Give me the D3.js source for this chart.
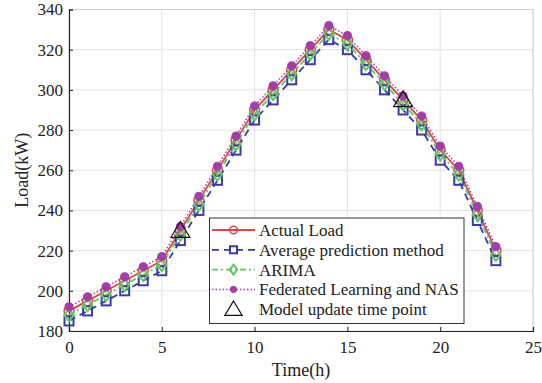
<!DOCTYPE html>
<html>
<head>
<meta charset="utf-8">
<script src="https://cdn.jsdelivr.net/npm/d3@7"></script>
<style>
  body { margin: 0; background: #fff; }
  svg { display: block; font-family: "Liberation Serif", "Times New Roman", serif; }
  svg text { font-family: "Liberation Serif", "Times New Roman", serif; }
</style>
</head>
<body>
<svg id="chart" width="542" height="383"></svg>
<script>
// hourly values
const hours = d3.range(0, 24);
const actualLoad = [190, 195, 200, 205, 210, 215, 230, 245, 260, 275, 290, 300, 310, 320, 330, 325, 315, 305, 295, 285, 270, 260, 240, 220];
const averagePred = [185, 190, 195, 200, 205, 210, 225, 240, 255, 270, 285, 295, 305, 315, 325, 320, 310, 300, 290, 280, 265, 255, 235, 215];
const arimaPred = [188, 193, 198, 203, 208, 213, 228, 243, 258, 273, 288, 298, 308, 318, 328, 323, 313, 303, 293, 283, 268, 258, 238, 218];
const flNasPred = [192, 197, 202, 207, 212, 217, 232, 247, 262, 277, 292, 302, 312, 322, 332, 327, 317, 307, 297, 287, 272, 262, 242, 222];
const updateHours = [6, 18];
const xTicks = [0, 5, 10, 15, 20, 25];
const yTicks = [180, 200, 220, 240, 260, 280, 300, 320, 340];
const legendLabels = ["Actual Load", "Average prediction method", "ARIMA", "Federated Learning and NAS", "Model update time point"];

const margin = { left: 69, right: 9, top: 9.5, bottom: 52 };
const W = 542, H = 383;
const serif = '"Liberation Serif", "Times New Roman", serif';

const svg = d3.select("#chart");

const x = d3.scaleLinear().domain([0, 25]).range([margin.left, W - margin.right]);
const y = d3.scaleLinear().domain([180, 340]).range([H - margin.bottom, margin.top]);

// grid
const grid = svg.append("g").attr("stroke", "#e3e3e3").attr("stroke-width", 1);
xTicks.forEach(t => grid.append("line")
  .attr("x1", x(t)).attr("x2", x(t)).attr("y1", y(180)).attr("y2", y(340)));
yTicks.forEach(t => grid.append("line")
  .attr("x1", x(0)).attr("x2", x(25)).attr("y1", y(t)).attr("y2", y(t)));

// light box on top/right
svg.append("path")
  .attr("d", `M${x(0)},${y(340)}H${x(25)}V${y(180)}`)
  .attr("fill", "none").attr("stroke", "#cfcfcf");

// axes
const xAxis = svg.append("g")
  .attr("transform", `translate(0,${y(180)})`)
  .call(d3.axisBottom(x).tickValues(xTicks).tickSize(-4).tickPadding(10));
const yAxis = svg.append("g")
  .attr("transform", `translate(${x(0)},0)`)
  .call(d3.axisLeft(y).tickValues(yTicks).tickSize(-4).tickPadding(6));
[xAxis, yAxis].forEach(a => {
  a.attr("font-family", serif).attr("font-size", 17);
  a.select(".domain").attr("stroke", "#222").attr("stroke-width", 1.2);
  a.selectAll(".tick line").attr("stroke", "#222");
  a.selectAll(".tick text").attr("fill", "#222");
});

svg.append("text")
  .attr("x", (x(0) + x(25)) / 2).attr("y", 376)
  .attr("text-anchor", "middle").attr("fill", "#222")
  .style("font-size", "18px").text("Time(h)");
svg.append("text")
  .attr("transform", `translate(28,${(y(180) + y(340)) / 2}) rotate(-90)`)
  .attr("text-anchor", "middle").attr("fill", "#222")
  .style("font-size", "18px").text("Load(kW)");

const series = [
  { name: legendLabels[0], values: actualLoad, color: "#d9474b", dash: null, marker: "circle" },
  { name: legendLabels[1], values: averagePred, color: "#3a3aa6", dash: "7,5", marker: "square" },
  { name: legendLabels[2], values: arimaPred, color: "#62c862", dash: "6,3,2,3", marker: "diamond" },
  { name: legendLabels[3], values: flNasPred, color: "#a23fa6", dash: "1.5,2", marker: "dot" }
];

function drawMarker(g, type, color, cx, cy, s) {
  if (type === "circle") {
    g.append("circle").attr("cx", cx).attr("cy", cy).attr("r", s * 0.55)
      .attr("fill", "none").attr("stroke", color).attr("stroke-width", 1.5);
  } else if (type === "square") {
    g.append("rect").attr("x", cx - s / 2).attr("y", cy - s / 2).attr("width", s).attr("height", s)
      .attr("fill", "none").attr("stroke", color).attr("stroke-width", 2);
  } else if (type === "diamond") {
    const r = s * 0.7;
    g.append("path").attr("d", `M${cx},${cy - r}L${cx + r * 0.75},${cy}L${cx},${cy + r}L${cx - r * 0.75},${cy}Z`)
      .attr("fill", "none").attr("stroke", color).attr("stroke-width", 2);
  } else if (type === "dot") {
    g.append("circle").attr("cx", cx).attr("cy", cy).attr("r", s * 0.45)
      .attr("fill", color).attr("stroke", color).attr("stroke-width", 1);
  } else if (type === "triangle") {
    const r = s * 0.75;
    g.append("path").attr("d", `M${cx},${cy - r}L${cx + r * 1.05},${cy + r * 0.75}L${cx - r * 1.05},${cy + r * 0.75}Z`)
      .attr("fill", "none").attr("stroke", color).attr("stroke-width", 1.2);
  }
}

const line = d3.line().x((d, i) => x(hours[i])).y(d => y(d));
const plot = svg.append("g");
series.forEach(s => {
  plot.append("path").datum(s.values)
    .attr("d", line).attr("fill", "none")
    .attr("stroke", s.color).attr("stroke-width", s.marker === "dot" ? 1.5 : 1.8)
    .attr("stroke-dasharray", s.dash);
  const mg = plot.append("g");
  s.values.forEach((v, i) => drawMarker(mg, s.marker, s.color, x(hours[i]), y(v), 9));
});

// model update points
const tg = plot.append("g");
updateHours.forEach(h => drawMarker(tg, "triangle", "#111", x(h), y(actualLoad[h]), 12));

// legend
const lg = svg.append("g");
lg.append("rect").attr("x", 209.5).attr("y", 218).attr("width", 254.5).attr("height", 105.5)
  .attr("fill", "#fff").attr("stroke", "#333").attr("stroke-width", 1);
const rowY = d => 230 + d * 19.8;
[...series, { name: legendLabels[4], color: "#111", dash: null, marker: "triangle" }].forEach((s, i) => {
  const cy = rowY(i);
  if (s.marker !== "triangle") {
    lg.append("line").attr("x1", 212).attr("x2", 255).attr("y1", cy).attr("y2", cy)
      .attr("stroke", s.color).attr("stroke-width", s.marker === "dot" ? 1.5 : 1.8)
      .attr("stroke-dasharray", s.dash);
  }
  drawMarker(lg, s.marker, s.color, 233.5, cy, s.marker === "triangle" ? 11 : 7);
  lg.append("text").attr("x", 259).attr("y", cy).attr("dy", "0.35em")
    .attr("fill", "#222").style("font-size", "17px").text(s.name);
});
</script>
</body>
</html>
